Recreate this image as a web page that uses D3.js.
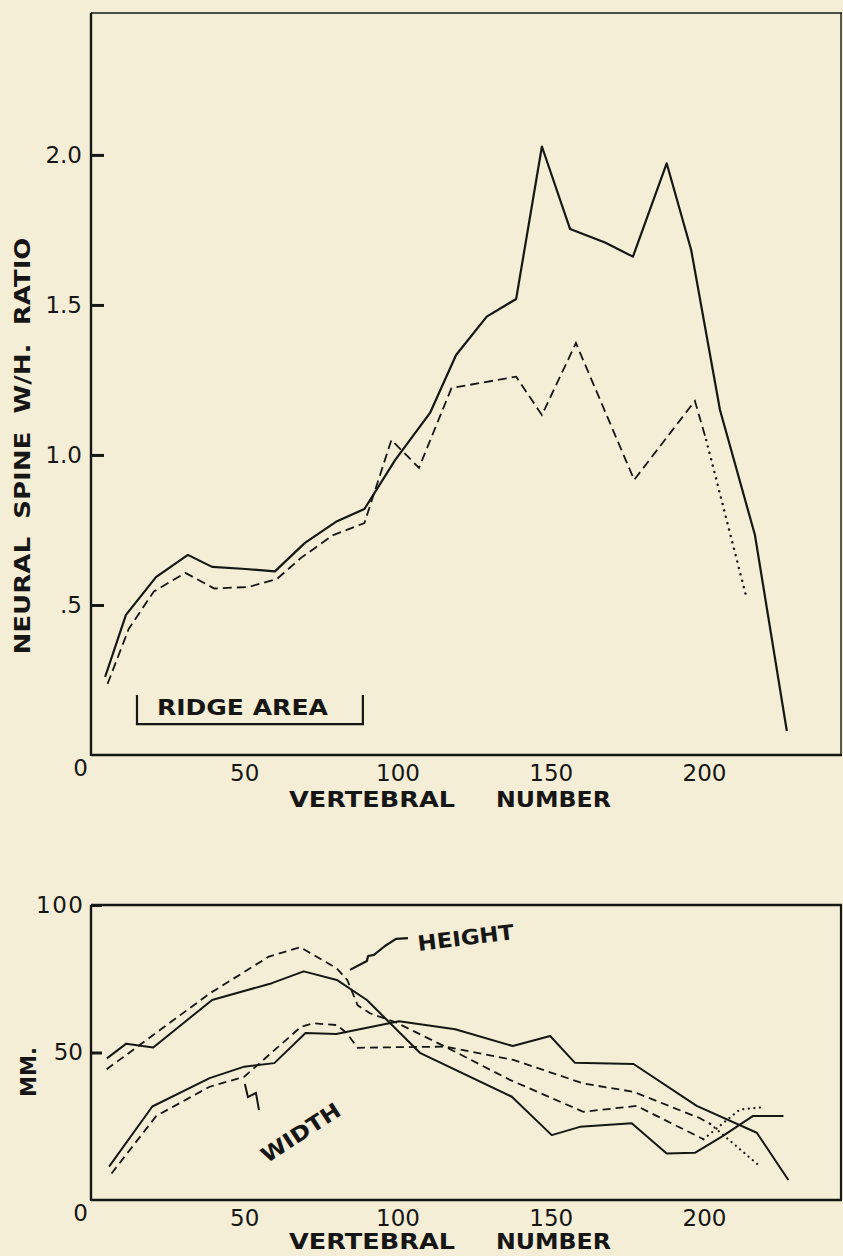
<!DOCTYPE html>
<html>
<head>
<meta charset="utf-8">
<script src="https://cdn.jsdelivr.net/npm/d3@7"></script>
<style>
  html, body { margin: 0; padding: 0; background: #f5eed6; }
  svg { display: block; }
  text { font-family: "DejaVu Sans", sans-serif; fill: #161616; }
</style>
</head>
<body>
<div id="chart"></div>
<script>
// ---- data ----
var vertTicks = [0, 50, 100, 150, 200];
var ratioTicks = [0.5, 1.0, 1.5, 2.0];
var ratioTickLabels = [".5", "1.0", "1.5", "2.0"];
var mmTicks = [50, 100];

// upper panel: neural spine width / height ratio
var ratioSolid = [[4.6,0.26],[11.4,0.467],[21.2,0.593],[31.6,0.667],[39.5,0.627],[50.5,0.62],[60,0.612],
  [69.8,0.707],[79.9,0.777],[89.2,0.82],[99.2,0.983],[110.6,1.14],[119.1,1.333],[129.1,1.461],
  [138.7,1.52],[147.1,2.028],[156.3,1.753],[167.7,1.708],[176.8,1.661],[187.8,1.972],[195.8,1.683],
  [205.2,1.15],[216.6,0.733],[227,0.08]];
var ratioDashed = [[5.4,0.237],[12.3,0.42],[20.5,0.545],[30.8,0.607],[40.2,0.555],[51.4,0.56],[60.7,0.587],
  [68.5,0.657],[79,0.733],[89.2,0.773],[98,1.05],[107,0.957],[117.6,1.223],[138.7,1.261],[147.1,1.133],
  [158.2,1.373],[177.2,0.917],[197,1.18],[200.7,1.05]];
var ratioDotted = [[200.7,1.05],[213.9,0.522]];
var ridgeArea = [15, 88.7];

// lower panel: height and width in mm
var heightSolid = [[5.2,48],[11.5,53],[20.3,51.7],[39.5,67.8],[59,73.5],[69.4,77.5],[80.2,74.6],[90,67.8],
  [107.3,49.9],[137.3,35],[150.3,22],[159.5,24.8],[176.4,26],[187.8,15.8],[197,16],[205.8,21.5],
  [216,28.5],[225.9,28.5]];
var widthSolid = [[5.9,11.3],[20,31.7],[38.7,41.3],[50,45.2],[59.8,46.4],[70,56.6],[80,56.3],[100.5,60.6],
  [118.8,57.9],[137.6,52.2],[149.8,55.6],[157.9,46.5],[177,46.1],[197.6,31.9],[217.2,22.8],[227.5,6.8]];
var heightDashed = [[5.1,44.3],[38.7,70],[58,82.5],[68.3,85.7],[80.2,78.5],[83.6,74.6],[87,66],[91,63.3],
  [99.7,60.1],[115.5,52],[136.7,40.7],[160.6,29.9],[178,31.9],[199.8,20.6]];
var heightDotted = [[199.8,20.6],[211.7,30.7],[218.8,31.4]];
var widthDashed = [[6.7,9],[21.3,28.5],[38.7,38.4],[50,41.8],[68.5,58.7],[72.4,59.9],[80.2,59.3],[83.4,56.6],
  [87,51.6],[100,51.8],[115.5,52],[137.8,47.5],[160.6,39.5],[176.9,36.7],[198.7,27.7],[202,25.8]];
var widthDotted = [[202,25.8],[217.7,11.9]];

// hand-drawn pointers, in data units
var heightPointer = [[103.4,88.8],[99.5,88.5],[95.9,86.1],[92.3,83.1],[90.4,82.7],[90,81],[84.5,78]];
var widthPointer = [[50.2,39.3],[51.2,34.9],[53.8,36.3],[54.8,30.5]];

// ---- layout ----
var W = 843, H = 1256;
var ink = "#161616";

var svg = d3.select("#chart").append("svg")
  .attr("width", W)
  .attr("height", H);

var x = d3.scaleLinear().domain([0, 245]).range([91, 842]);
var yTop = d3.scaleLinear().domain([0, 2.473]).range([755, 13]);
var yBot = d3.scaleLinear().domain([0, 100]).range([1200, 905]);

var line = function(ys) {
  return d3.line().x(d => x(d[0])).y(d => ys(d[1]));
};

function drawFrame(ys, wTop, wRight) {
  var x0 = x(0), x1 = x(245), y0 = ys.range()[0], y1 = ys.range()[1];
  var g = svg.append("g").attr("class", "frame").style("stroke", ink).style("fill", "none");
  g.append("line").attr("x1", x0).attr("x2", x1).attr("y1", y0).attr("y2", y0).style("stroke-width", 2.6);
  g.append("line").attr("x1", x0).attr("x2", x0).attr("y1", y0 + 1).attr("y2", y1).style("stroke-width", 2.4);
  g.append("line").attr("x1", x0).attr("x2", x1).attr("y1", y1).attr("y2", y1).style("stroke-width", wTop);
  g.append("line").attr("x1", x1 - 1).attr("x2", x1 - 1).attr("y1", y1).attr("y2", y0).style("stroke-width", wRight);
}

function drawXAxis(ys) {
  var g = svg.append("g")
    .attr("class", "x-axis")
    .attr("transform", "translate(0," + ys.range()[0] + ")")
    .call(d3.axisBottom(x).tickValues(vertTicks).tickSize(0).tickPadding(10).tickFormat(d3.format("d")));
  g.select(".domain").remove();
  g.selectAll("text").style("font-size", "23px").style("fill", ink);
  g.selectAll(".tick").filter(d => d === 0).select("text").attr("x", -11).attr("y", 5);
}

function xTitle(baseline) {
  svg.append("text").attr("x", 289).attr("y", baseline)
    .attr("textLength", 166).attr("lengthAdjust", "spacingAndGlyphs")
    .style("font-size", "21px").style("font-weight", "bold")
    .text("VERTEBRAL");
  svg.append("text").attr("x", 496).attr("y", baseline)
    .attr("textLength", 115).attr("lengthAdjust", "spacingAndGlyphs")
    .style("font-size", "21px").style("font-weight", "bold")
    .text("NUMBER");
}

// ---- upper panel ----
drawFrame(yTop, 1.6, 1.4);
drawXAxis(yTop);

var gyTop = svg.append("g")
  .attr("class", "y-axis")
  .attr("transform", "translate(" + x(0) + ",0)")
  .call(d3.axisLeft(yTop).tickValues(ratioTicks).tickSize(-13).tickPadding(9)
    .tickFormat((d, i) => ratioTickLabels[i]));
gyTop.select(".domain").remove();
gyTop.selectAll("line").style("stroke", ink).style("stroke-width", 3);
gyTop.selectAll("text").style("font-size", "23px").style("fill", ink);

svg.append("text")
  .attr("transform", "translate(22,446) rotate(-90)")
  .attr("text-anchor", "middle")
  .attr("dominant-baseline", "central")
  .attr("textLength", 417).attr("lengthAdjust", "spacingAndGlyphs")
  .style("white-space", "pre")
  .style("font-size", "22px").style("font-weight", "bold")
  .text("NEURAL  SPINE  W/H.  RATIO");

xTitle(807);

svg.append("path").datum(ratioSolid)
  .attr("d", line(yTop))
  .style("fill", "none").style("stroke", ink).style("stroke-width", 2.2).style("stroke-linejoin", "round");
svg.append("path").datum(ratioDashed)
  .attr("d", line(yTop))
  .style("fill", "none").style("stroke", ink).style("stroke-width", 1.8).style("stroke-dasharray", "9,5");
svg.append("path").datum(ratioDotted)
  .attr("d", line(yTop))
  .style("fill", "none").style("stroke", ink).style("stroke-width", 2.4)
  .style("stroke-dasharray", "0.1,6.5").style("stroke-linecap", "round");

// ridge area bracket
var ridge = svg.append("g").attr("class", "ridge");
ridge.append("path")
  .attr("d", "M" + x(ridgeArea[0]) + "," + yTop(0.2) + "V" + yTop(0.103) +
             "H" + x(ridgeArea[1]) + "V" + yTop(0.2))
  .style("fill", "none").style("stroke", ink).style("stroke-width", 2.2);
ridge.append("text")
  .attr("x", x(21.5)).attr("y", yTop(0.133))
  .attr("textLength", 171).attr("lengthAdjust", "spacingAndGlyphs")
  .style("font-size", "22px").style("font-weight", "bold")
  .text("RIDGE AREA");

// ---- lower panel ----
drawFrame(yBot, 2.4, 2.2);
drawXAxis(yBot);

var gyBot = svg.append("g")
  .attr("class", "y-axis")
  .attr("transform", "translate(" + x(0) + ",0)")
  .call(d3.axisLeft(yBot).tickValues(mmTicks).tickSize(-11).tickPadding(8).tickFormat(d3.format("d")));
gyBot.select(".domain").remove();
gyBot.selectAll("line").style("stroke", ink).style("stroke-width", 3);
gyBot.selectAll("text").style("font-size", "23px").style("fill", ink);
gyBot.selectAll(".tick").filter(d => d === 100).select("text")
  .attr("textLength", 47).attr("lengthAdjust", "spacing");

svg.append("text")
  .attr("transform", "translate(28,1072) rotate(-90)")
  .attr("text-anchor", "middle")
  .attr("dominant-baseline", "central")
  .attr("textLength", 50).attr("lengthAdjust", "spacingAndGlyphs")
  .style("font-size", "22px").style("font-weight", "bold")
  .text("MM.");

xTitle(1249);

var solidSeries = [heightSolid, widthSolid];
var dashedSeries = [heightDashed, widthDashed];
var dottedSeries = [heightDotted, widthDotted];

svg.append("g").selectAll("path").data(solidSeries).enter().append("path")
  .attr("d", line(yBot))
  .style("fill", "none").style("stroke", ink).style("stroke-width", 2).style("stroke-linejoin", "round");
svg.append("g").selectAll("path").data(dashedSeries).enter().append("path")
  .attr("d", line(yBot))
  .style("fill", "none").style("stroke", ink).style("stroke-width", 1.8).style("stroke-dasharray", "8,5");
svg.append("g").selectAll("path").data(dottedSeries).enter().append("path")
  .attr("d", line(yBot))
  .style("fill", "none").style("stroke", ink).style("stroke-width", 2.2)
  .style("stroke-dasharray", "0.1,5.5").style("stroke-linecap", "round");

// labels with their hand-drawn pointers
var pointerLine = d3.line().x(d => x(d[0])).y(d => yBot(d[1])).curve(d3.curveLinear);
svg.append("path").datum(heightPointer).attr("d", pointerLine)
  .style("fill", "none").style("stroke", ink).style("stroke-width", 2.2).style("stroke-linejoin", "round");
svg.append("path").datum(widthPointer).attr("d", pointerLine)
  .style("fill", "none").style("stroke", ink).style("stroke-width", 2);

svg.append("text")
  .attr("transform", "translate(" + x(122.3) + "," + yBot(88.8) + ") rotate(-7)")
  .attr("text-anchor", "middle").attr("dominant-baseline", "central")
  .attr("textLength", 97).attr("lengthAdjust", "spacingAndGlyphs")
  .style("font-size", "21px").style("font-weight", "bold")
  .text("HEIGHT");
svg.append("text")
  .attr("transform", "translate(" + x(68.5) + "," + yBot(22.7) + ") rotate(-33)")
  .attr("text-anchor", "middle").attr("dominant-baseline", "central")
  .attr("textLength", 90).attr("lengthAdjust", "spacingAndGlyphs")
  .style("font-size", "21px").style("font-weight", "bold")
  .text("WIDTH");
</script>
</body>
</html>
